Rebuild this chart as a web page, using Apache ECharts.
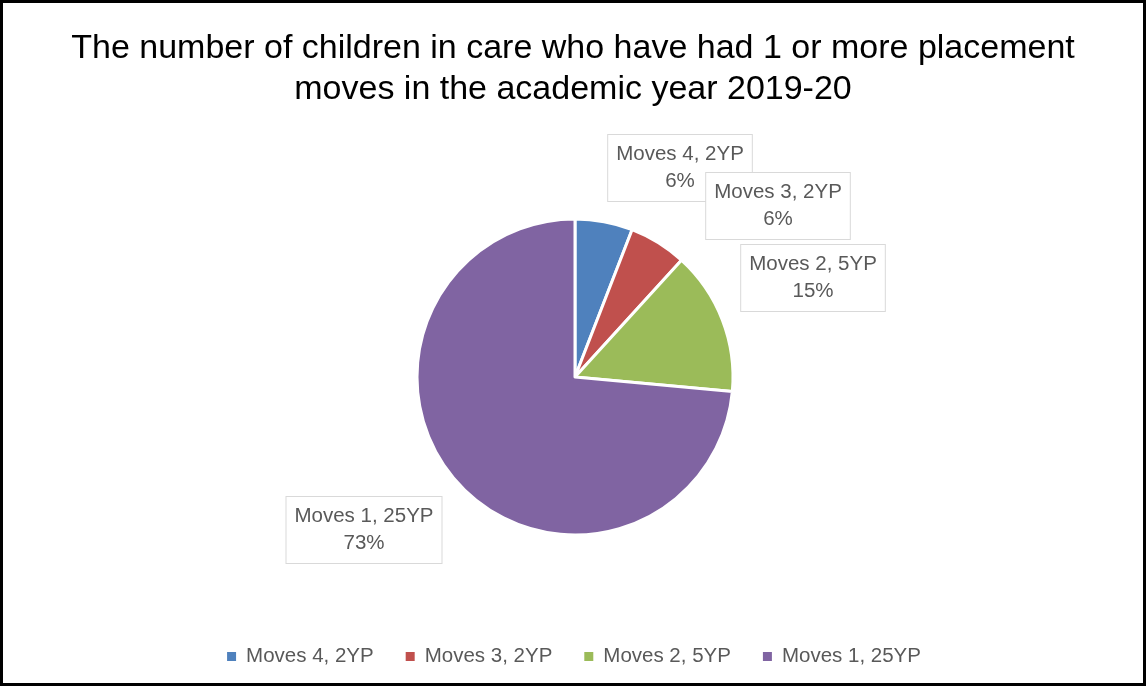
<!DOCTYPE html>
<html>
<head>
<meta charset="utf-8">
<script src="https://cdn.jsdelivr.net/npm/echarts@6/dist/echarts.min.js"></script>
<style>
html,body{margin:0;padding:0;background:#fff;}
#c{width:1146px;height:686px;box-sizing:border-box;border:3px solid #000;}
</style>
</head>
<body>
<div id="c"></div>
<script>
const categories = ['Moves 4, 2YP', 'Moves 3, 2YP', 'Moves 2, 5YP', 'Moves 1, 25YP'];
const values = [2, 2, 5, 25];
const colors = ['#4f81bd', '#c0504d', '#9bbb59', '#8064a2'];
const titleText = 'The number of children in care who have had 1 or more placement\nmoves in the academic year 2019-20';

// label box centres (layout only)
const labelCentres = [[680, 168], [778, 206], [813, 278], [364, 530]];

const FONT = "'Liberation Sans', Arial, sans-serif";
const chart = echarts.init(document.getElementById('c'), null, {renderer: 'canvas'});
chart.setOption({
  animation: false,
  color: colors,
  title: {
    text: titleText,
    left: 'center',
    top: 20,
    textStyle: {fontFamily: FONT, fontSize: 34, fontWeight: 'normal', color: '#000', lineHeight: 41}
  },
  legend: {
    bottom: 11,
    left: 'center',
    itemWidth: 11,
    itemHeight: 11,
    itemGap: 30,
    icon: 'rect',
    textStyle: {fontFamily: FONT, fontSize: 20.5, color: '#595959', padding: [0, 0, 0, 4]},
    data: categories
  },
  series: [{
    type: 'pie',
    center: [572, 374],
    radius: 158,
    startAngle: 90,
    clockwise: true,
    percentPrecision: 0,
    data: categories.map((n, i) => ({name: n, value: values[i]})),
    itemStyle: {borderColor: '#fff', borderWidth: 3},
    label: {
      show: true,
      position: 'outside',
      formatter: '{b}\n{d}%',
      fontFamily: FONT,
      fontSize: 20.5,
      color: '#595959',
      lineHeight: 27,
      align: 'center',
      backgroundColor: '#fff',
      borderColor: '#d9d9d9',
      borderWidth: 1,
      padding: [6, 8, 6, 8]
    },
    labelLine: {show: false},
    labelLayout: function (p) {
      const c = labelCentres[p.dataIndex];
      return {x: c[0] - 3, y: c[1] - 3, align: 'center', verticalAlign: 'middle'};
    },
    emphasis: {disabled: true}
  }]
});
</script>
</body>
</html>
